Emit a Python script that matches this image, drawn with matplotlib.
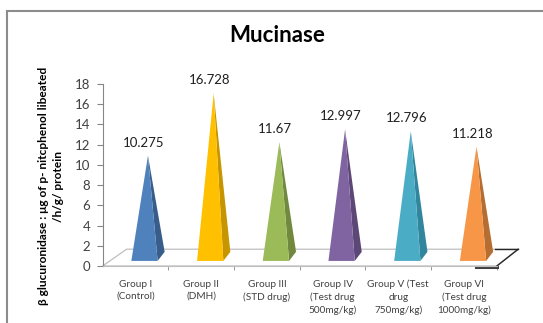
import matplotlib.pyplot as plt
from matplotlib.patches import Polygon
from matplotlib.lines import Line2D

plt.rcParams['font.family'] = ['Lato', 'DejaVu Sans']

groups = [
    "Group I\n(Control)",
    "Group II\n(DMH)",
    "Group III\n(STD drug)",
    "Group IV\n(Test drug\n500mg/kg)",
    "Group V (Test\ndrug\n750mg/kg)",
    "Group VI\n(Test drug\n1000mg/kg)",
]
values = [10.275, 16.728, 11.67, 12.997, 12.796, 11.218]
front_colors = ["#4F81BD", "#FFC000", "#9BBB59", "#8064A2", "#4BACC6", "#F79646"]
side_colors = ["#385D8A", "#C69500", "#71893F", "#5C4776", "#31859C", "#B66D31"]

# 3d-ish geometry of the pyramids (data units)
FLOOR_DEPTH_X = 0.365
FLOOR_DEPTH_Y = 1.66
BASE_Y = 0.5
BACK_Y = 1.4
HALF_W = 0.2
SHIFT = 0.137
SIDE_W = 0.107
APEX_SHIFT = 0.19
APEX_BASE = 1.1
APEX_SCALE = 0.955

fig = plt.figure(figsize=(5.43, 3.23), dpi=100)
ax = fig.add_axes([0.189, 0.1765, 0.726, 0.5635])
ax.set_xlim(0, 6)
ax.set_ylim(0, 18)

# floor of the chart
n = len(values)
floor = [(0, 0), (FLOOR_DEPTH_X, FLOOR_DEPTH_Y),
         (n + FLOOR_DEPTH_X - 0.04, FLOOR_DEPTH_Y), (n, 0)]
ax.add_patch(Polygon(floor, closed=True, facecolor="white",
                     edgecolor="#BFBFBF", lw=0.9, clip_on=False, zorder=1))
ax.plot([n - 0.39 + FLOOR_DEPTH_X, n + FLOOR_DEPTH_X - 0.04],
        [FLOOR_DEPTH_Y, FLOOR_DEPTH_Y], color="#262626", lw=1.0,
        clip_on=False, zorder=2)
ax.plot([n + FLOOR_DEPTH_X - 0.04, n], [FLOOR_DEPTH_Y, 0],
        color="#262626", lw=1.0, clip_on=False, zorder=2)
ax.plot([n - 0.32, n], [-0.1, -0.1], color="#404040", lw=2.2,
        clip_on=False, zorder=2)

for i, (v, fc, sc) in enumerate(zip(values, front_colors, side_colors)):
    c = i + 0.5
    left = c + SHIFT - HALF_W
    right = c + SHIFT + HALF_W
    apex = (c + APEX_SHIFT, APEX_BASE + APEX_SCALE * v)
    side = Polygon([(right, BASE_Y), (right + SIDE_W, BACK_Y), apex],
                   closed=True, facecolor=sc, edgecolor="none", zorder=3)
    front = Polygon([(left, BASE_Y), (right, BASE_Y), apex],
                    closed=True, facecolor=fc, edgecolor="none", zorder=4)
    ax.add_patch(side)
    ax.add_patch(front)
    ax.annotate(f"{v:g}", xy=apex, xytext=(-3, 5), textcoords="offset points",
                ha="center", va="bottom", fontsize=9.5, color="#1F1F1F")

for s in ("top", "right"):
    ax.spines[s].set_visible(False)
ax.spines["left"].set_color("#868686")
ax.spines["bottom"].set_color("#BFBFBF")

ax.set_yticks(range(0, 19, 2))
ax.tick_params(axis="y", colors="#868686", labelcolor="#404040",
               labelsize=9.5, length=4, pad=5)
ax.set_xticks([i + 0.5 for i in range(n)])
ax.set_xticklabels(groups, fontsize=7.2, color="#404040", linespacing=1.45,
                   va="top")
ax.tick_params(axis="x", length=0, pad=10)
ax.set_xticks(range(1, n + 1), minor=True)
ax.tick_params(axis="x", which="minor", length=3, colors="#868686")

fig.text(277 / 543, 1 - 35 / 323, "Mucinase", ha="center", va="center",
         fontsize=16, fontweight="bold")
fig.text(51 / 543, 1 - 186 / 323,
         "\u03b2 glucuronidase : \u03bcg of p- nitcphenol libeated\n/h/g/ protein",
         rotation=90, ha="center", va="center", fontsize=8.6,
         fontweight="bold", linespacing=1.5, multialignment="center")

# chart border
fig.add_artist(Line2D([7 / 543, 1.0], [1 - 11 / 323, 1 - 11 / 323],
                      transform=fig.transFigure, color="#8C8C8C", lw=1.5))
fig.add_artist(Line2D([7 / 543, 7 / 543], [0, 1 - 11 / 323],
                      transform=fig.transFigure, color="#8C8C8C", lw=1.5))

fig.savefig("out.png", dpi=100)
